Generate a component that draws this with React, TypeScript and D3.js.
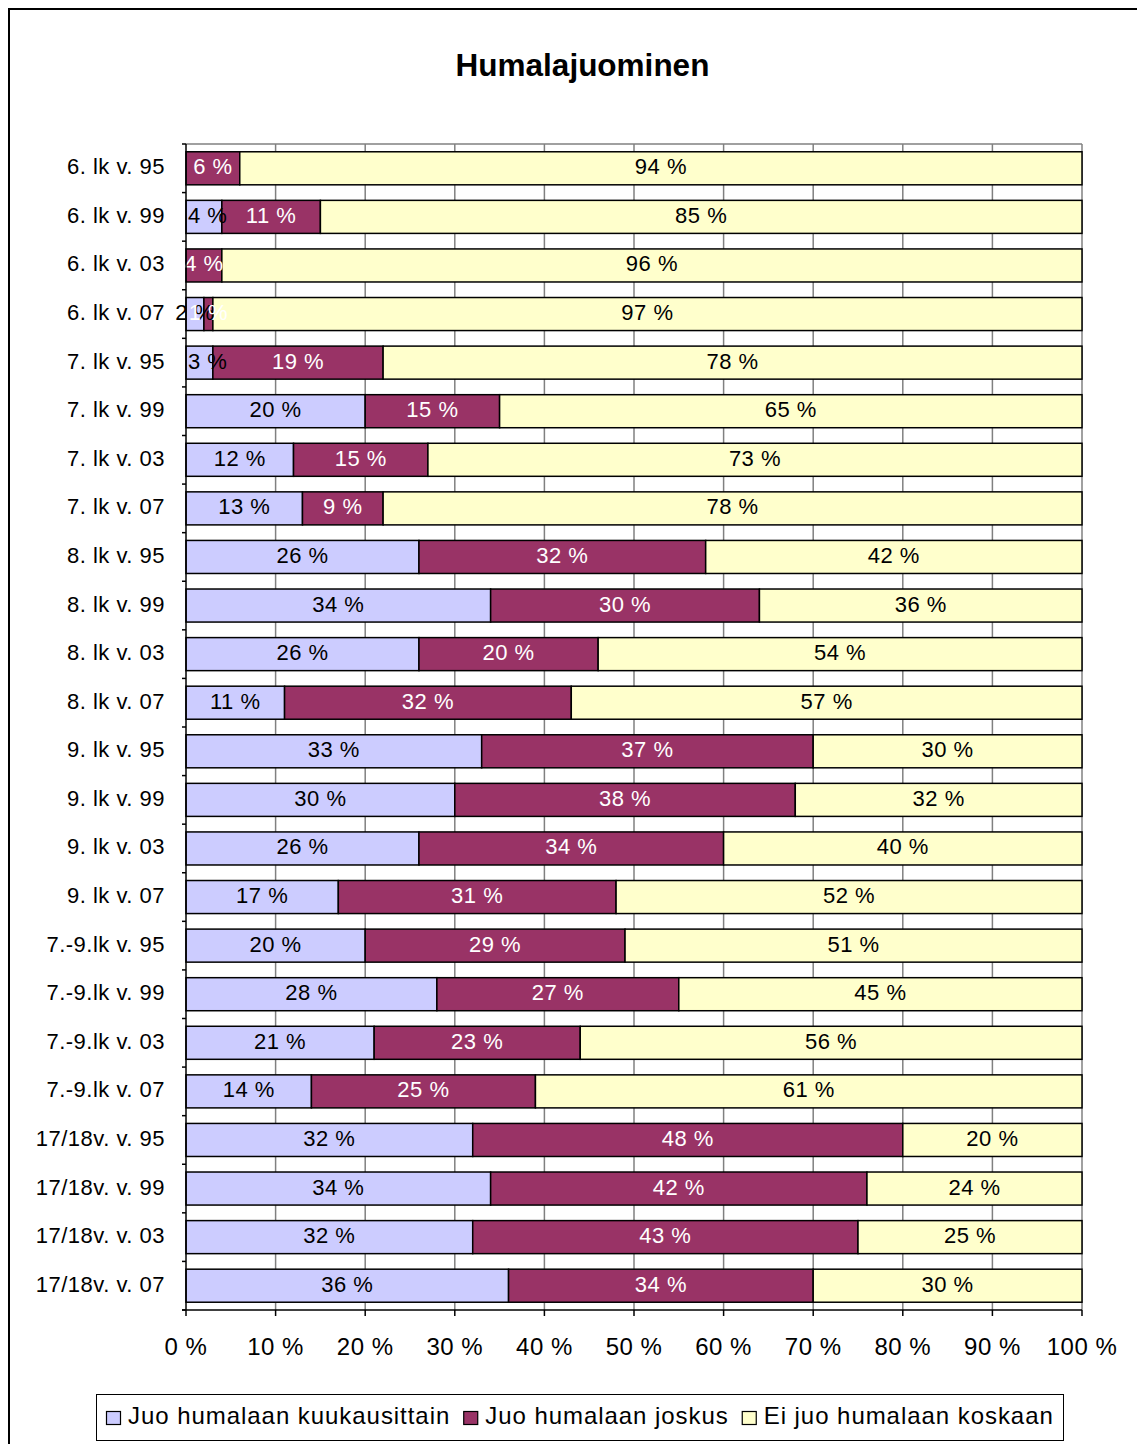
import React from "react";
import * as d3 from "d3";

const TITLE = "Humalajuominen";
const categories = [
  "6. lk v. 95", "6. lk v. 99", "6. lk v. 03", "6. lk v. 07",
  "7. lk v. 95", "7. lk v. 99", "7. lk v. 03", "7. lk v. 07",
  "8. lk v. 95", "8. lk v. 99", "8. lk v. 03", "8. lk v. 07",
  "9. lk v. 95", "9. lk v. 99", "9. lk v. 03", "9. lk v. 07",
  "7.-9.lk v. 95", "7.-9.lk v. 99", "7.-9.lk v. 03", "7.-9.lk v. 07",
  "17/18v. v. 95", "17/18v. v. 99", "17/18v. v. 03", "17/18v. v. 07",
];
const seriesNames = ["Juo humalaan kuukausittain", "Juo humalaan joskus", "Ei juo humalaan koskaan"];
const monthly = [0, 4, 0, 2, 3, 20, 12, 13, 26, 34, 26, 11, 33, 30, 26, 17, 20, 28, 21, 14, 32, 34, 32, 36];
const sometimes = [6, 11, 4, 1, 19, 15, 15, 9, 32, 30, 20, 32, 37, 38, 34, 31, 29, 27, 23, 25, 48, 42, 43, 34];
const never = [94, 85, 96, 97, 78, 65, 73, 78, 42, 36, 54, 57, 30, 32, 40, 52, 51, 45, 56, 61, 20, 24, 25, 30];
const xTicks = [0, 10, 20, 30, 40, 50, 60, 70, 80, 90, 100];

const colors = ["#CCCCFF", "#993366", "#FFFFCC"];
const labelColors = ["#000000", "#FFFFFF", "#000000"];
const FONT = "'Liberation Sans', Arial, sans-serif";

function measure(text: string, size: number, spacing: number) {
  if (typeof document === "undefined") return text.length * size * 0.5;
  const c = document.createElement("canvas").getContext("2d");
  if (!c) return text.length * size * 0.5;
  c.font = `${size}px ${FONT}`;
  return c.measureText(text).width + spacing * text.length;
}

export default function App() {
  const W = 1137, H = 1436;
  const left = 186, right = 1082, top = 144, bottom = 1310;
  const x = d3.scaleLinear().domain([0, 100]).range([left, right]);
  const y = d3.scaleBand<string>().domain(categories).range([top, bottom]).paddingInner(0.32).paddingOuter(0.16);
  const step = y.step();

  const rows = categories.map((c, i) => ({ cat: c, v: [monthly[i], sometimes[i], never[i]] }));
  const stack = d3.stack<any>().keys(["0", "1", "2"]).value((d, k) => d.v[+k]);
  const stacked = stack(rows as any);

  const labelFont = 22, labelSpacing = 0.5;

  // legend layout
  const legFont = 24, legSpacing = 0.95;
  let lx = 106;
  const legendItems = seriesNames.map((name, i) => {
    const sx = lx;
    const tx = sx + 22;
    const w = measure(name, legFont, legSpacing);
    lx = tx + w + 13;
    return { name, sx, tx, i };
  });

  return (
    <svg width={W} height={H} style={{ display: "block" }} fontFamily={FONT}>
      <g transform="translate(-8,-8)">
        <rect x={9} y={9} width={1400} height={1600} fill="white" stroke="black" strokeWidth={2} />
        <text x={582.5} y={76} textAnchor="middle" fontSize={31.5} fontWeight="bold">{TITLE}</text>

        {/* plot area top border */}
        <line x1={left} x2={right} y1={top} y2={top} stroke="#808080" strokeWidth={1.5} />
        {/* gridlines */}
        {xTicks.slice(1).map((t) => (
          <line key={"g" + t} x1={x(t)} x2={x(t)} y1={top} y2={bottom} stroke="#808080" strokeWidth={1.5} />
        ))}

        {/* bars */}
        {stacked.map((s, si) => (
          <g key={"s" + si}>
            {s.map((d, i) => {
              const v = d[1] - d[0];
              if (v <= 0) return null;
              const y0 = y(categories[i])!;
              return (
                <rect key={i} x={x(d[0])} y={y0} width={x(d[1]) - x(d[0])} height={y.bandwidth()}
                  fill={colors[si]} stroke="black" strokeWidth={1.5} />
              );
            })}
          </g>
        ))}
        {/* data labels */}
        {stacked.map((s, si) => (
          <g key={"l" + si}>
            {s.map((d, i) => {
              const v = d[1] - d[0];
              if (v <= 0) return null;
              const cy = y(categories[i])! + y.bandwidth() / 2;
              const txt = `${v} %`;
              const w = measure(txt, labelFont, labelSpacing);
              let cx = x((d[0] + d[1]) / 2);
              if (si === 0 && v >= 3 && cx - w / 2 < left + 2) cx = left + 2 + w / 2;
              return (
                <text key={i} x={cx} y={cy + 6} textAnchor="middle" fontSize={labelFont}
                  letterSpacing={labelSpacing} fill={labelColors[si]}>{txt}</text>
              );
            })}
          </g>
        ))}

        {/* axes */}
        <line x1={left} x2={left} y1={top} y2={bottom} stroke="black" strokeWidth={1.5} />
        {d3.range(categories.length + 1).map((k) => (
          <line key={"yt" + k} x1={left - 4} x2={left} y1={top + k * step} y2={top + k * step} stroke="black" strokeWidth={1.5} />
        ))}
        <line x1={left - 4} x2={right} y1={bottom} y2={bottom} stroke="black" strokeWidth={1.5} />
        {xTicks.map((t) => (
          <g key={"xt" + t}>
            <line x1={x(t)} x2={x(t)} y1={bottom} y2={bottom + 6} stroke="black" strokeWidth={1.5} />
            <text x={x(t)} y={1355} textAnchor="middle" fontSize={24} letterSpacing={0.5}>{`${t} %`}</text>
          </g>
        ))}
        {categories.map((c) => (
          <text key={c} x={165} y={y(c)! + y.bandwidth() / 2 + 6} textAnchor="end" fontSize={22} letterSpacing={0.5}>{c}</text>
        ))}

        {/* legend */}
        <rect x={96.5} y={1394.5} width={967} height={46} fill="white" stroke="black" strokeWidth={1} />
        {legendItems.map((it) => (
          <g key={it.name}>
            <rect x={it.sx + 0.5} y={1411.5} width={14} height={13} fill={colors[it.i]} stroke="black" strokeWidth={1.2} />
            <text x={it.tx} y={1424} fontSize={legFont} letterSpacing={legSpacing}>{it.name}</text>
          </g>
        ))}
      </g>
    </svg>
  );
}
